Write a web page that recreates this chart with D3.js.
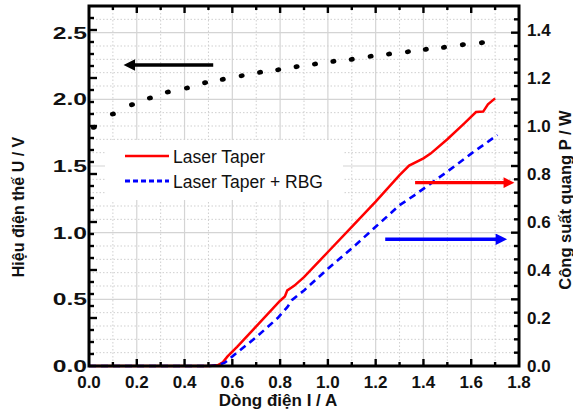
<!DOCTYPE html>
<html><head><meta charset="utf-8">
<script src="https://cdn.jsdelivr.net/npm/d3@7"></script>
<style>body{margin:0;background:#fff}text{font-family:"Liberation Sans",Arial,sans-serif}</style>
</head><body>
<svg id="c" width="573" height="414"></svg>
<script>
// ---- data ----
const voltI = [0.02,0.10,0.18,0.255,0.33,0.41,0.486,0.56,0.639,0.716,0.792,0.869,0.946,1.023,1.10,1.179,1.256,1.335,1.41,1.486,1.565,1.645];
const voltU = [1.79,1.89,1.96,2.01,2.055,2.085,2.125,2.15,2.177,2.203,2.222,2.245,2.265,2.285,2.30,2.323,2.34,2.357,2.375,2.39,2.41,2.425];
const taperI = [0,0.5,0.54,0.56,0.58,0.62,0.7,0.8,0.82,0.83,0.845,0.86,0.9,1.0,1.1,1.2,1.3,1.34,1.4,1.43,1.5,1.57,1.62,1.65,1.67,1.70];
const taperP = [0,0,0.004,0.015,0.04,0.08,0.165,0.272,0.29,0.315,0.325,0.335,0.37,0.475,0.58,0.685,0.795,0.835,0.865,0.885,0.945,1.01,1.058,1.06,1.09,1.115];
const rbgI = [0,0.5,0.54,0.57,0.6,0.7,0.79,0.83,0.85,0.9,1.0,1.1,1.2,1.3,1.36,1.5,1.6,1.71];
const rbgP = [0,0,0.003,0.015,0.04,0.12,0.2,0.245,0.275,0.315,0.405,0.49,0.58,0.67,0.71,0.81,0.885,0.9625];
const xTicks = [0,0.2,0.4,0.6,0.8,1.0,1.2,1.4,1.6,1.8];
const uTicks = [0,0.5,1.0,1.5,2.0,2.5];
const pTicks = [0,0.2,0.4,0.6,0.8,1.0,1.2,1.4];
const seriesNames = ["Laser Taper","Laser Taper + RBG"];
const xTitle = "Dòng điện I / A", uTitle = "Hiệu điện thế U / V", pTitle = "Công suất quang P / W";
// arrows [x1,x2,value] ; which axis
const arrowU = [0.52,0.135,2.258];
const arrowTaper = [1.365,1.79,0.764];
const arrowRbg = [1.24,1.76,0.528];

// ---- layout ----
const L=89,R=519,T=6,B=366;
const svg=d3.select("#c");
const x=d3.scaleLinear().domain([0,1.8]).range([L,R]);
const yU=d3.scaleLinear().domain([0,2.7]).range([B,T]);
const yP=d3.scaleLinear().domain([0,1.5]).range([B,T]);
const fmt=d3.format(".1f");
const near=(v,s)=>Math.abs(v/s-Math.round(v/s))<1e-6;

// gridlines
const g=svg.append("g");
d3.range(1,18).map(i=>i/10).forEach(v=>{
  const major=near(v,0.2);
  g.append("line").attr("x1",x(v)).attr("x2",x(v)).attr("y1",T).attr("y2",B)
   .attr("stroke",major?"#d4d4d4":"#cfcfcf").attr("stroke-width",major?1.2:1)
   .attr("stroke-dasharray",major?null:"1.5,2");
});
d3.range(1,27).map(i=>i/10).forEach(v=>{
  const major=near(v,0.5);
  g.append("line").attr("x1",L).attr("x2",R).attr("y1",yU(v)).attr("y2",yU(v))
   .attr("stroke",major?"#d4d4d4":"#cfcfcf").attr("stroke-width",major?1.2:1)
   .attr("stroke-dasharray",major?null:"1.5,2");
});

// legend box (white background)
svg.append("rect").attr("x",105).attr("y",140).attr("width",238).attr("height",60).attr("fill","#fff");

// series
const lineP=d3.line().x(d=>x(d[0])).y(d=>yP(d[1]));
svg.append("path").datum(taperI.map((v,i)=>[v,taperP[i]])).attr("d",lineP)
  .attr("fill","none").attr("stroke","#ff0000").attr("stroke-width",2.5);
svg.append("path").datum(rbgI.map((v,i)=>[v,rbgP[i]])).attr("d",lineP)
  .attr("fill","none").attr("stroke","#0000ff").attr("stroke-width",2.6).attr("stroke-dasharray","7,5");
svg.append("g").selectAll("ellipse").data(voltI.map((v,i)=>[v,voltU[i]])).join("ellipse")
  .attr("cx",d=>x(d[0])).attr("cy",d=>yU(d[1])).attr("rx",3).attr("ry",2.4).attr("fill","#000")
  .attr("transform",d=>`rotate(-12,${x(d[0])},${yU(d[1])})`);

// arrows
const defs=svg.append("defs");
[["k","#000"],["r","#ff0000"],["b","#0000ff"]].forEach(([id,c])=>{
  defs.append("marker").attr("id","ah"+id).attr("viewBox","0 0 10 10").attr("refX",2).attr("refY",5)
   .attr("markerWidth",4).attr("markerHeight",3.2).attr("markerUnits","strokeWidth").attr("orient","auto")
   .append("path").attr("d","M0,0L10,5L0,10Z").attr("fill",c);
});
function arrow(a,ys,col,id,w){
  const x1=x(a[0]),x2=x(a[1]),y=ys(a[2]);
  const dir=Math.sign(x2-x1);
  svg.append("line").attr("x1",x1).attr("x2",x2-dir*w*3.2).attr("y1",y).attr("y2",y)
   .attr("stroke",col).attr("stroke-width",w).attr("marker-end",`url(#ah${id})`);
}
arrow(arrowU,yU,"#000","k",3.6);
arrow(arrowTaper,yP,"#ff0000","r",3.4);
arrow(arrowRbg,yP,"#0000ff","b",3.6);

// legend entries
svg.append("line").attr("x1",125).attr("x2",169).attr("y1",156).attr("y2",156).attr("stroke","#ff0000").attr("stroke-width",2.6);
svg.append("line").attr("x1",125).attr("x2",169).attr("y1",181).attr("y2",181).attr("stroke","#0000ff").attr("stroke-width",2.8).attr("stroke-dasharray","5,3");
svg.append("text").attr("x",173).attr("y",162.5).attr("font-size",17.5).attr("fill","#111").text(seriesNames[0]);
svg.append("text").attr("x",173).attr("y",187.5).attr("font-size",17.5).attr("fill","#111").text(seriesNames[1]);

// ticks
const tk=svg.append("g").attr("stroke","#000").attr("stroke-width",2.4);
d3.range(1,18).map(i=>i/10).forEach(v=>{
  const len=near(v,0.2)?7:4;
  tk.append("line").attr("x1",x(v)).attr("x2",x(v)).attr("y1",B).attr("y2",B-len);
  tk.append("line").attr("x1",x(v)).attr("x2",x(v)).attr("y1",T).attr("y2",T+len);
});
// left axis carries the power-scale ticks
d3.range(1,30).map(i=>i*0.05).forEach(v=>{
  const len=near(v,0.2)?8:5;
  tk.append("line").attr("x1",L).attr("x2",L+len).attr("y1",yP(v)).attr("y2",yP(v));
});
// right axis carries the voltage-scale ticks
d3.range(1,27).map(i=>i/10).forEach(v=>{
  const len=near(v,0.5)?8:5;
  tk.append("line").attr("x1",R).attr("x2",R-len).attr("y1",yU(v)).attr("y2",yU(v));
});

// frame
svg.append("rect").attr("x",L).attr("y",T).attr("width",R-L).attr("height",B-T)
  .attr("fill","none").attr("stroke","#000").attr("stroke-width",3);

// tick labels
const lab=svg.append("g").attr("font-weight","bold").attr("font-size",17).attr("fill","#111");
xTicks.forEach(v=>lab.append("text").attr("x",x(v)).attr("y",388).attr("text-anchor","middle").text(fmt(v)));
uTicks.forEach(v=>lab.append("text").attr("transform",`translate(87,${yU(v)+6}) scale(1.45,1)`).attr("text-anchor","end").text(fmt(v)));
pTicks.forEach(v=>lab.append("text").attr("x",527).attr("y",yP(v)+6).text(fmt(v)));

// axis titles
svg.append("text").attr("x",278).attr("y",406).attr("text-anchor","middle").attr("font-weight","bold").attr("font-size",17).attr("fill","#111").text(xTitle);
svg.append("text").attr("transform","translate(24,207) rotate(-90)").attr("text-anchor","middle").attr("font-weight","bold").attr("font-size",16).attr("fill","#111").text(uTitle);
svg.append("text").attr("transform","translate(571,200) rotate(-90)").attr("text-anchor","middle").attr("font-weight","bold").attr("font-size",16.5).attr("fill","#111").text(pTitle);
</script>
</body></html>
